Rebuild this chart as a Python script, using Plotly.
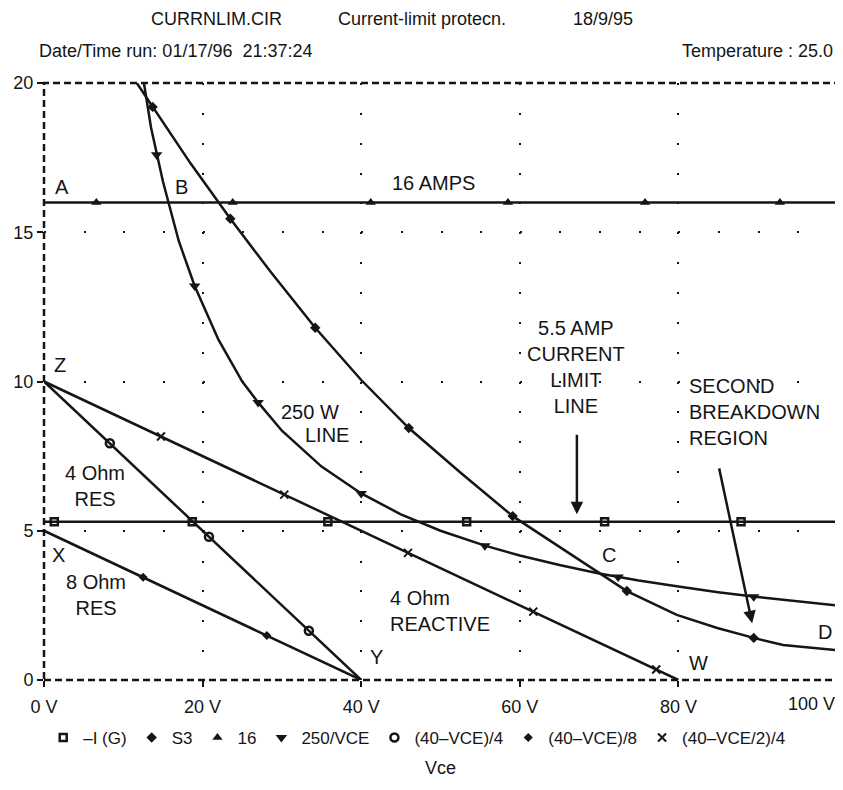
import plotly.graph_objects as go

# ---- data (Vce in volts, current in amps) ----
ig_x = [0, 100]
ig_y = [5.3, 5.3]
ig_mx = [1.3, 18.7, 35.8, 53.3, 70.7, 87.9]
ig_my = [5.3, 5.3, 5.3, 5.3, 5.3, 5.3]

s3_x = [11.7, 13.7, 18.5, 23.5, 28.5, 34.2, 40.0, 46.0, 52.5, 59.1, 64.5, 70.1, 73.5, 79.8, 84.9, 89.5, 93.2, 100]
s3_y = [20.0, 19.2, 17.3, 15.45, 13.7, 11.8, 10.05, 8.44, 6.95, 5.49, 4.55, 3.55, 2.98, 2.18, 1.74, 1.41, 1.17, 1.0]
s3_mx = [13.7, 23.5, 34.2, 46.0, 59.1, 73.5, 89.5]
s3_my = [19.2, 15.45, 11.8, 8.44, 5.49, 2.98, 1.41]

amp16_x = [0, 100]
amp16_y = [16.0, 16.0]
amp16_mx = [6.6, 23.8, 41.2, 58.5, 75.8, 92.8]
amp16_my = [16.0, 16.0, 16.0, 16.0, 16.0, 16.0]

p250_x = [12.6, 13.5, 15, 17, 19, 22, 25, 27, 30, 35, 40, 45, 50, 55.6, 60, 65, 70, 75, 80, 85, 90, 95, 100]
p250_y = [20.0, 18.5, 16.7, 14.7, 13.2, 11.4, 10.0, 9.3, 8.35, 7.15, 6.25, 5.55, 5.0, 4.5, 4.17, 3.85, 3.57, 3.33, 3.13, 2.94, 2.78, 2.63, 2.5]
p250_mx = [14.2, 19.0, 27.0, 40.0, 55.6, 72.4, 89.5]
p250_my = [17.6, 13.2, 9.3, 6.25, 4.5, 3.45, 2.79]

r4_x = [0, 40]
r4_y = [10, 0]
r4_mx = [8.3, 20.8, 33.4]
r4_my = [7.93, 4.8, 1.65]

r8_x = [0, 40]
r8_y = [5, 0]
r8_mx = [12.5, 28.1]
r8_my = [3.44, 1.49]

rx_x = [0, 80]
rx_y = [10, 0]
rx_mx = [14.75, 30.3, 45.9, 61.7, 77.2]
rx_my = [8.16, 6.21, 4.26, 2.29, 0.35]

x_ticks = [0, 20, 40, 60, 80, 100]
x_labels = ["0 V", "20 V", "40 V", "60 V", "80 V", ""]
y_ticks = [0, 5, 10, 15, 20]

INK = "#151515"
FONT = "Liberation Sans, Arial, Helvetica, sans-serif"

# the page body adds an 8px margin, so the figure is 8px smaller and
# every pixel position below is the reference position minus 8
OFF = 8
W, H = 835, 782
L, R, T, B = 36, 6, 75, 110
plot_w = W - L - R
plot_h = H - T - B
px_per_amp = plot_h / 20
px_per_5v = plot_w / 100 * 5

fig = go.Figure()

series = [
    ("–I (G)", ig_x, ig_y, ig_mx, ig_my, dict(symbol="square-open", size=7, line=dict(width=2.5, color=INK))),
    ("S3", s3_x, s3_y, s3_mx, s3_my, dict(symbol="diamond", size=8)),
    ("16", amp16_x, amp16_y, amp16_mx, amp16_my, dict(symbol="triangle-up", size=9)),
    ("250/VCE", p250_x, p250_y, p250_mx, p250_my, dict(symbol="triangle-down", size=10)),
    ("(40–VCE)/4", r4_x, r4_y, r4_mx, r4_my, dict(symbol="circle-open", size=8, line=dict(width=2.5, color=INK))),
    ("(40–VCE)/8", r8_x, r8_y, r8_mx, r8_my, dict(symbol="diamond", size=7)),
    ("(40–VCE/2)/4", rx_x, rx_y, rx_mx, rx_my, dict(symbol="x-thin", size=8, line=dict(width=2, color=INK))),
]

for name, lx, ly, mx, my, mk in series:
    fig.add_trace(go.Scatter(
        x=lx, y=ly, mode="lines", showlegend=False,
        line=dict(color=INK, width=2.5), hoverinfo="skip"
    ))
for name, lx, ly, mx, my, mk in series:
    fig.add_trace(go.Scatter(
        x=mx, y=my, mode="markers", name=name,
        marker=dict(color=INK, **mk)
    ))

# dashed frame round the plot
fig.add_shape(type="rect", xref="paper", yref="paper", x0=0, x1=1, y0=0, y1=1,
              line=dict(color=INK, width=2.5, dash="7px,4px"))

# labels inside the plot
def label(text, x, y, anchor="center", align="center"):
    fig.add_annotation(x=x, y=y, text=text, showarrow=False, xanchor=anchor,
                       yanchor="middle", align=align,
                       font=dict(size=20, color=INK, family=FONT))

label("A", 1.1, 16.5, "left")
label("B", 17.3, 16.5)
label("16 AMPS", 49.1, 16.65)
label("Z", 1.0, 10.55, "left")
label("250 W", 33.5, 8.98)
label("LINE", 35.7, 8.2)
label("4 Ohm<br>RES", 6.4, 6.5)
label("X", 0.8, 4.19, "left")
label("8 Ohm<br>RES", 6.6, 2.85)
label("Y", 40.9, 0.77, "left")
label("4 Ohm<br>REACTIVE", 43.4, 2.31, "left", "left")
label("C", 70.1, 4.19, "left")
label("D", 97.4, 1.61, "left")
label("W", 81.1, 0.57, "left")
label("5.5 AMP<br>CURRENT<br>LIMIT<br>LINE", 67.1, 10.49)
label("SECOND<br>BREAKDOWN<br>REGION", 81.1, 8.98, "left", "left")

# arrows
for (x0, y0, x1, y1) in [(67.2, 8.27, 67.2, 5.55), (85.1, 7.14, 89.3, 1.9)]:
    fig.add_annotation(x=x1, y=y1, ax=x0, ay=y0, axref="x", ayref="y", text="",
                       showarrow=True, arrowhead=2, arrowsize=1, arrowwidth=2.5,
                       arrowcolor=INK)

# last x tick label sits flush right
fig.add_annotation(x=100, y=0, xref="x", yref="paper", text="100 V", showarrow=False,
                   xanchor="right", yanchor="top", yshift=-12,
                   font=dict(size=18, color=INK, family=FONT))

# header text, positions in reference pixels
def header(text, xpx, ypx, anchor):
    fig.add_annotation(xref="paper", yref="paper", x=(xpx - OFF - L) / plot_w,
                       y=1 + (T - (ypx - OFF)) / plot_h, text=text, showarrow=False,
                       xanchor=anchor, yanchor="middle", borderpad=0,
                       font=dict(size=18, color=INK, family=FONT))

header("CURRNLIM.CIR", 150, 19, "left")
header("Current-limit protecn.", 337, 19, "left")
header("18/9/95", 572, 19, "left")
header("Date/Time run: 01/17/96  21:37:24", 38, 51, "left")
header("Temperature : 25.0", 834, 51, "right")

fig.update_layout(
    width=W, height=H,
    margin=dict(l=L, r=R, t=T, b=B, autoexpand=False),
    paper_bgcolor="white", plot_bgcolor="white",
    font=dict(family=FONT, size=18, color=INK),
    showlegend=True,
    legend=dict(orientation="h", x=0.47, xanchor="center", y=-58 / plot_h,
                yanchor="middle", font=dict(size=17), itemwidth=30,
                bgcolor="rgba(0,0,0,0)"),
    xaxis=dict(range=[0, 100], tickvals=x_ticks, ticktext=x_labels,
               showline=False, zeroline=False, ticks="outside", ticklen=6,
               tickwidth=2, tickcolor=INK, ticklabelstandoff=4,
               showgrid=True, gridcolor=INK, gridwidth=2,
               griddash="2px,%.2fpx" % (px_per_amp - 2),
               title=dict(text="Vce", standoff=45, font=dict(size=18)),
               fixedrange=True),
    yaxis=dict(range=[0, 20], tickvals=y_ticks, showline=False, zeroline=False,
               ticks="outside", ticklen=6, tickwidth=2, tickcolor=INK,
               showgrid=True, gridcolor=INK, gridwidth=2,
               griddash="2px,%.2fpx" % (px_per_5v - 2),
               fixedrange=True),
)

fig.write_html("out.html")
